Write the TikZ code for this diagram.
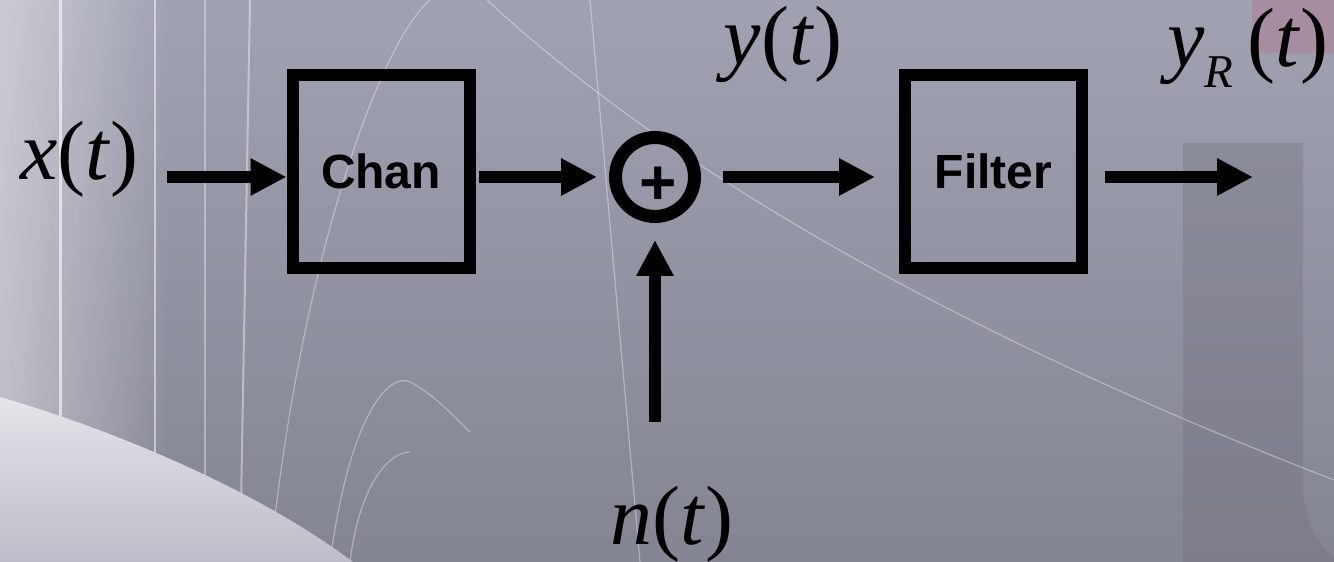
\documentclass[tikz,border=0pt]{standalone}
\usepackage{fontspec}
\setmainfont{Liberation Serif}
\newfontfamily\blocksans{Liberation Sans}
\usepackage{xcolor}
\usetikzlibrary{arrows.meta,positioning,calc,fadings}
\definecolor{bgtop}{RGB}{160, 162, 178}
\definecolor{bgbottom}{RGB}{132, 133, 146}
\definecolor{wedgelight}{RGB}{228, 228, 234}
\definecolor{wedgedark}{RGB}{188, 189, 200}
\definecolor{pinkpatch}{RGB}{168, 140, 160}
\definecolor{darkpatch}{RGB}{112, 112, 122}

\begin{document}
\begin{tikzpicture}[x=1pt, y=1pt, >={Triangle[length=36pt,width=35pt]},
    block/.style={draw, line width=12pt, minimum width=177pt, minimum height=193pt,
        font=\blocksans\bfseries\fontsize{48}{50}\selectfont},
    signal/.style={font=\fontsize{84}{90}\selectfont, inner sep=0pt},
    flow/.style={->, line width=12pt},
    streak/.style={white, line width=1.2pt, opacity=0.35}]
    \useasboundingbox (0,0) rectangle (1334,562);

    % Background
    \shade[top color=bgtop, bottom color=bgbottom] (0,0) rectangle (1334,562);
    \fill[white, opacity=0.45, path fading=east] (0,0) rectangle (170,562);
    \fill[pinkpatch] (1252,509) rectangle (1334,562);
    \fill[darkpatch, opacity=0.35] (1183,419) -- (1303,419) -- (1303,75)
        .. controls (1305,40) and (1318,15) .. (1334,5) -- (1334,0) -- (1183,0) -- cycle;
    \draw[white, line width=3pt, opacity=0.6] (60,0) -- (60,562);
    \draw[white, line width=2pt, opacity=0.5] (155,0) -- (155,562);
    \draw[white, line width=1.5pt, opacity=0.35] (205,0) -- (205,562);
    \draw[white, line width=2pt, opacity=0.4] (250,562) -- (240,0);
    \draw[streak] (487,562) .. controls (640,420) and (900,250) .. (1334,82);
    \draw[streak] (270,0) .. controls (300,300) and (380,520) .. (430,562);
    \draw[streak] (330,0) .. controls (350,150) and (390,190) .. (410,180) .. controls (430,170) and (450,150) .. (470,130);
    \draw[streak] (350,0) .. controls (360,80) and (390,110) .. (410,110);
    \draw[streak] (590,562) -- (640,0);
    \shade[top color=wedgelight, bottom color=wedgedark]
        (0,165) .. controls (120,130) and (260,70) .. (353,0) -- (0,0) -- cycle;

    % Blocks and signals
    \node[signal, anchor=base west] (xin) at (20,382) {\textit{x}(\textit{t})};
    \node[block] (chan) at (381,390.5) {Chan};
    \node[draw, circle, line width=13pt, minimum size=79pt, inner sep=0pt] (sum) at (655,385) {};
    \node[font=\blocksans\bfseries\fontsize{64}{64}\selectfont, inner sep=0pt] (plus) at ([xshift=3pt, yshift=-9pt]sum.center) {+};
    \node[signal, anchor=base] (yt) at (783,497) {\textit{y}(\textit{t})};
    \node[block] (filt) at (993.5,390.5) {Filter};
    \node[signal, anchor=base west] (yR) at (1167,495)
        {\textit{y}\raisebox{-21pt}{\fontsize{47}{50}\selectfont\textit{R}}\kern14pt(\textit{t})};
    \node[signal, anchor=base] (nt) at (672,17) {\textit{n}(\textit{t})};
    \coordinate (out) at (1253,385);

    % Connectors
    \draw[flow, shorten <=28pt] (xin.east |- sum) -- (chan.west |- sum);
    \draw[flow, shorten <=3pt, shorten >=12pt] (chan.east |- sum) -- (sum.west);
    \draw[flow, shorten <=22pt, shorten >=24pt] (sum.east) -- (filt.west |- sum);
    \draw[flow, shorten <=17pt] (filt.east |- sum) -- (out);
    \draw[flow, shorten <=65pt, shorten >=17pt] (sum |- nt.north) -- (sum.south);
\end{tikzpicture}
\end{document}
